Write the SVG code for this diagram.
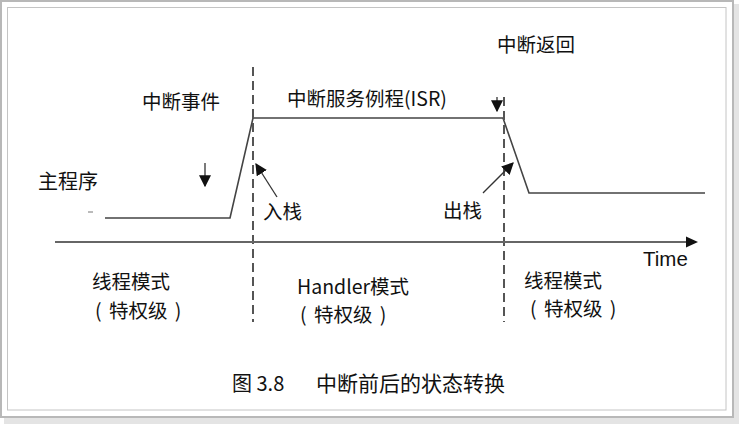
<svg xmlns="http://www.w3.org/2000/svg" width="739" height="424" viewBox="0 0 739 424">
<defs>
<style>
.t{font-family:"Noto Sans CJK SC","Noto Sans",sans-serif;font-size:19.5px;fill:#111}
.p{word-spacing:3px}
.l{font-family:"Liberation Sans","Noto Sans CJK SC",sans-serif;font-size:20.5px;fill:#111}
.w{fill:none;stroke:#444;stroke-width:1.6}
.d{fill:none;stroke:#555;stroke-width:2;stroke-dasharray:9,5}
.a{fill:none;stroke:#333;stroke-width:1.3}
</style>
<marker id="ah2" viewBox="0 0 10 10" refX="9" refY="5" markerWidth="12" markerHeight="12" markerUnits="userSpaceOnUse" orient="auto"><path d="M0,0L10,5L0,10z" fill="#111"/></marker>
</defs>
<rect x="0" y="0" width="739" height="424" fill="#fff"/>
<rect x="734" y="4" width="5" height="420" fill="#e4e4e4"/>
<rect x="4" y="418" width="735" height="6" fill="#e4e4e4"/>
<rect x="1" y="1" width="732" height="416" fill="#fff" stroke="#b8b8b8" stroke-width="2"/>
<rect x="7.5" y="7.5" width="718.5" height="402.5" fill="none" stroke="#c4c4c4" stroke-width="1"/>
<g id="connectors">
<polyline class="w" points="105,218 230,218 253,118 503,118 529,193 705,193"/>
<line class="d" x1="253" y1="67" x2="253" y2="322"/>
<line class="d" x1="504" y1="97" x2="504" y2="322"/>
<line x1="55" y1="242" x2="688" y2="242" stroke="#666" stroke-width="2"/>
<path d="M686,236.5L698,242L686,247.5z" fill="#111"/>
<line class="a" x1="205" y1="163" x2="205" y2="186" marker-end="url(#ah2)"/>
<line class="a" x1="497" y1="97" x2="497" y2="111" marker-end="url(#ah2)"/>
<line class="a" x1="277" y1="197" x2="256" y2="164" marker-end="url(#ah2)"/>
<line class="a" x1="483" y1="193" x2="513" y2="163" marker-end="url(#ah2)"/>
<line x1="88" y1="212" x2="93" y2="212" stroke="#777" stroke-width="1"/>
</g>
<g id="labels">
<text class="t" x="497" y="52">中断返回</text>
<text class="t" x="142" y="109">中断事件</text>
<text class="t" x="287" y="106">中断服务例程(ISR)</text>
<text class="t" x="38" y="189" style="font-size:20px">主程序</text>
<text class="t" x="263" y="219">入栈</text>
<text class="t" x="443" y="218">出栈</text>
<text class="l" x="643" y="266">Time</text>
<text class="t" x="92" y="289">线程模式</text>
<text class="t p" x="95" y="318" xml:space="preserve">( 特权级 )</text>
<text class="t" x="297" y="294">Handler模式</text>
<text class="t p" x="300" y="322" xml:space="preserve">( 特权级 )</text>
<text class="t" x="524" y="288">线程模式</text>
<text class="t p" x="530" y="316" xml:space="preserve">( 特权级 )</text>
<text class="t" x="232" y="391" style="font-size:20px">图 3.8</text>
<text class="t" x="316" y="391" style="font-size:21px">中断前后的状态转换</text>
</g>
</svg>
